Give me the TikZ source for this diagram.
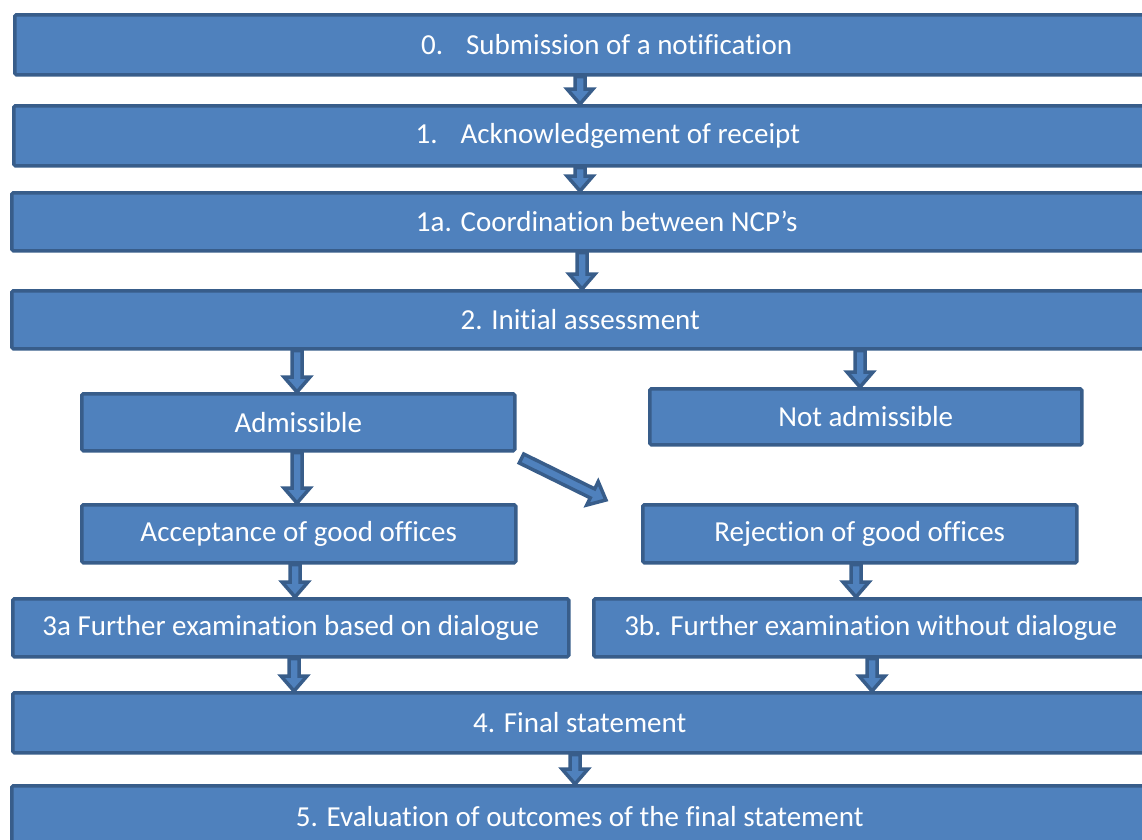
\documentclass[tikz,border=0pt]{standalone}
\usepackage{fontspec}
\setmainfont{Carlito}[Ligatures={NoCommon,NoContextual}, RawFeature={-liga;-clig;-dlig;-calt}]
\usetikzlibrary{calc}

\definecolor{boxfill}{RGB}{79,129,189}
\definecolor{boxline}{RGB}{56,93,138}

% block arrow from #1 to #2
\newcommand{\blockarrow}[2]{%
  \draw[arrowbox] let \p1=#1, \p2=#2, \n1={atan2(\y2-\y1,\x2-\x1)}, \n2={veclen(\x2-\x1,\y2-\y1)} in
    ([shift={(\p1)},rotate=\n1]0,5) -- ([shift={(\p1)},rotate=\n1]\n2-15,5)
    -- ([shift={(\p1)},rotate=\n1]\n2-15,13) -- ([shift={(\p1)},rotate=\n1]\n2,0)
    -- ([shift={(\p1)},rotate=\n1]\n2-15,-13) -- ([shift={(\p1)},rotate=\n1]\n2-15,-5)
    -- ([shift={(\p1)},rotate=\n1]0,-5) -- cycle;}

\begin{document}
\begin{tikzpicture}[x=1pt, y=-1pt,
  stepbox/.style={rectangle, draw=boxline, fill=boxfill, line width=3.5pt, rounded corners=1.5pt,
    anchor=north west, inner sep=0pt, text=white, font=\fontsize{29}{34}\selectfont},
  arrowbox/.style={draw=boxline, fill=boxfill, line width=3.5pt, line join=miter}]
\useasboundingbox (0,0) rectangle (1142,839);
\clip (0,0) rectangle (1142,839);
\node[stepbox, minimum width=1184, minimum height=60] (b0) at (13,13) {0.\hspace{23pt}Submission of a notification};
\node[stepbox, minimum width=1188, minimum height=60] (b1) at (12,104) {1.\hspace{23pt}Acknowledgement of receipt};
\node[stepbox, minimum width=1190, minimum height=58] (b1a) at (10,191) {1a. Coordination between NCP’s};
\node[stepbox, minimum width=1137, minimum height=58] (b2) at (10,289) {2. Initial assessment};
\node[stepbox, minimum width=433, minimum height=57] (adm) at (80,392) {Admissible};
\node[stepbox, minimum width=432, minimum height=56] (nadm) at (648,387) {Not admissible};
\node[stepbox, minimum width=434, minimum height=58] (acc) at (80,503) {Acceptance of good offices};
\node[stepbox, minimum width=434, minimum height=58] (rej) at (641,503) {Rejection of good offices};
\node[stepbox, minimum width=556, minimum height=58] (b3a) at (11,597) {3a Further examination based on dialogue};
\node[stepbox, minimum width=554, minimum height=58] (b3b) at (592,597) {3b. Further examination without dialogue};
\node[stepbox, minimum width=1134, minimum height=60] (b4) at (11,691) {4. Final statement};
\node[stepbox, minimum width=1136, minimum height=62] (b5) at (10,784) {5. Evaluation of outcomes of the final statement};
%% arrows
\blockarrow{(580,0 |- b0.south)}{(580,0 |- b1.north)}
\blockarrow{(580,0 |- b1.south)}{(580,0 |- b1a.north)}
\blockarrow{(582,0 |- b1a.south)}{(582,0 |- b2.north)}
\blockarrow{(297,0 |- b2.south)}{(297,0 |- adm.north)}
\blockarrow{(860,0 |- b2.south)}{(860,0 |- nadm.north)}
\blockarrow{(297,0 |- adm.south)}{(297,0 |- acc.north)}
\blockarrow{($(adm.south east)+(5,6)$)}{($(rej.north west)+(-35,-3)$)}
\blockarrow{(295,0 |- acc.south)}{(295,0 |- b3a.north)}
\blockarrow{(856,0 |- rej.south)}{(856,0 |- b3b.north)}
\blockarrow{(294,0 |- b3a.south)}{(294,0 |- b4.north)}
\blockarrow{(872,0 |- b3b.south)}{(872,0 |- b4.north)}
\blockarrow{(575,0 |- b4.south)}{(575,0 |- b5.north)}
\end{tikzpicture}
\end{document}
